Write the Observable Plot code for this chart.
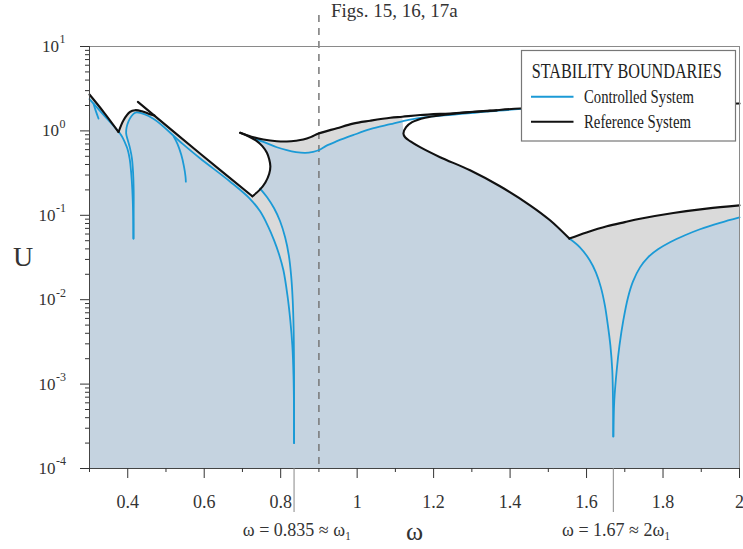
<!DOCTYPE html>
<html><head><meta charset="utf-8">
<script src="https://cdn.jsdelivr.net/npm/d3@7"></script>
<script src="https://cdn.jsdelivr.net/npm/@observablehq/plot@0.6"></script>
<style>html,body{margin:0;padding:0;background:#fff;}</style>
</head><body><div id="chart"></div>
<script>
// ---- Reference system boundary (black), [omega, U] ----
const refLeft   = [[0.300,2.70],[0.338,1.65],[0.376,0.97]];
const refArch   = [[0.376,0.97],[0.389,1.34],[0.406,1.68],[0.419,1.76],[0.437,1.71],[0.453,1.61],[0.470,1.52]];
const refLine   = [[0.4265,2.21],[0.589,0.54],[0.726,0.168]];
const refBulge  = [[0.726,0.168],[0.745,0.20],[0.760,0.245],[0.770,0.31],[0.773,0.38],[0.770,0.46],[0.764,0.55],[0.752,0.66],[0.735,0.77],[0.714,0.87],[0.694,0.95]];
const refTop    = [[0.694,0.95],[0.712,0.89],[0.729,0.84],[0.755,0.79],[0.79,0.755],[0.816,0.75],[0.84,0.765],[0.859,0.79],[0.88,0.85],[0.899,0.93],[0.947,1.076],[0.989,1.22],[1.034,1.32],[1.087,1.43],[1.118,1.47],[1.165,1.54],[1.26,1.63],[1.348,1.74],[1.426,1.84],[1.55,1.94],[1.70,2.02],[1.85,2.07],[2.0,2.11]];
const refLoopUp = [[1.365,1.75],[1.3476,1.727],[1.2953,1.667],[1.23,1.556],[1.1777,1.434],[1.1437,1.268],[1.128,1.106],[1.121,0.93]];
const refLoopLo = [[1.121,0.93],[1.1254,0.841],[1.1385,0.755],[1.1646,0.641],[1.2169,0.488],[1.2953,0.342],[1.3737,0.221],[1.4522,0.1315],[1.5045,0.0873],[1.555,0.053]];
const refRight  = [[1.555,0.053],[1.60,0.0625],[1.653,0.074],[1.70,0.083],[1.74,0.091],[1.827,0.1065],[1.914,0.120],[2.0,0.131]];

// ---- Controlled system boundary (blue), [omega, U] ----
const ctlLeft   = [[0.300,2.38],[0.338,1.53],[0.365,1.12],[0.376,0.98],[0.385,0.86],[0.392,0.74],[0.399,0.62],[0.405,0.47],[0.409,0.32],[0.412,0.20],[0.414,0.11],[0.415,0.053]];
const ctlMid    = [[0.415,0.053],[0.4155,0.11],[0.4155,0.20],[0.414,0.32],[0.411,0.47],[0.406,0.62],[0.400,0.78],[0.396,0.92],[0.397,1.10],[0.402,1.30],[0.410,1.50],[0.418,1.63],[0.424,1.66],[0.467,1.395],[0.537,0.745],[0.589,0.474],[0.668,0.25],[0.719,0.158],[0.7462,0.1115],[0.7671,0.0741],[0.7828,0.0505],[0.7959,0.0344],[0.8072,0.0223],[0.8177,0.01125],[0.8252,0.00568],[0.8305,0.00287],[0.8336,0.00126],[0.8349,0.00049],[0.835,0.0002]];
const ctlDip2R  = [[0.7462,0.2074],[0.7645,0.1636],[0.7828,0.1211],[0.7985,0.0849],[0.8116,0.0548],[0.8213,0.0335],[0.8273,0.0194],[0.8315,0.0098],[0.8339,0.00433],[0.8349,0.00145],[0.835,0.0002]];
const ctlTop    = [[0.729,0.81],[0.755,0.74],[0.79,0.64],[0.816,0.59],[0.84,0.56],[0.864,0.548],[0.885,0.565],[0.899,0.59],[0.92,0.67],[0.947,0.755],[0.989,0.889],[1.034,1.047],[1.087,1.20],[1.118,1.30],[1.165,1.43],[1.26,1.57],[1.348,1.71],[1.43,1.82]];
const ctlDip3L  = [[1.555,0.053],[1.5826,0.0417],[1.6087,0.0292],[1.6244,0.0211],[1.6375,0.0140],[1.6479,0.00856],[1.6558,0.00495],[1.6623,0.00287],[1.6673,0.00145],[1.6692,0.00064],[1.670,0.00024]];
const ctlDip3R  = [[1.670,0.00024],[1.6725,0.00064],[1.6788,0.00145],[1.6861,0.00287],[1.6961,0.00568],[1.7084,0.01064],[1.7215,0.01648],[1.7398,0.02415],[1.7607,0.0318],[1.7868,0.0395],[1.8182,0.0479],[1.8574,0.058],[1.8966,0.0683],[1.9489,0.0815],[2.0,0.0946]];
const ctlSpur1  = [[0.3105,2.10],[0.316,1.75],[0.3235,1.40]];
const ctlSpur2  = [[0.52,0.86],[0.53,0.70],[0.54,0.52],[0.547,0.38],[0.551,0.29],[0.552,0.25]];

// ---- axes / annotations ----
const xDomain = [0.3, 2.0];
const yDomain = [1e-4, 10];
const xMajor = [0.4,0.6,0.8,1.0,1.2,1.4,1.6,1.8,2.0];
const xMinor = [0.3,0.5,0.7,0.9,1.1,1.3,1.5,1.7,1.9];
const yMajor = [1e-4,1e-3,1e-2,1e-1,1,10];
const yMinor = yMajor.slice(0,-1).flatMap(d => [2,3,4,5,6,7,8,9].map(k => k*d));
const markedOmega = [0.835, 1.67];
const markedLabels = ["ω = 0.835 ≈ ω₁", "ω = 1.67 ≈ 2ω₁"];
const dashedOmega = 0.9;
const titleText = "Figs. 15, 16, 17a";
const legendTitle = "STABILITY BOUNDARIES";
const seriesNames = ["Controlled System", "Reference System"];
const BLUE = "#1b9ad6", BLACK = "#111111";
const seriesColors = [BLUE, BLACK];

// ---- fill polygons built from boundary arrays ----
const bot = yDomain[0];
const refPoly = [[xDomain[0], bot], ...refLeft, ...refArch.slice(1),
  ...refLine.filter(d => d[0] > 0.47), ...refBulge.slice(1),
  ...refTop.filter(d => d[0] > 0.694 && d[0] <= 1.118), ...refLoopLo, ...refRight.slice(1), [xDomain[1], bot]];
const ctlPoly = [[xDomain[0], bot], ...ctlLeft, ...ctlMid.slice(1), ...ctlDip2R.slice().reverse().slice(1),
  ...refBulge.filter(d => d[1] > 0.21 && d[1] < 0.8), ...ctlTop.filter(d => d[0] <= 1.118),
  ...refLoopLo, ...ctlDip3L.slice(1), ...ctlDip3R.slice(1), [xDomain[1], bot]];

const X = d => d[0], Y = d => d[1];
const stroke = (data, color, w) => Plot.line(data, {x: X, y: Y, stroke: color, strokeWidth: w, curve: "catmull-rom"});
const fmtX = d => (Math.abs(d - Math.round(d)) < 1e-9 ? String(Math.round(d)) : d.toFixed(1));
const expOf = d => String(Math.round(Math.log10(d)));

const chart = Plot.plot({
  width: 743, height: 549,
  marginTop: 46, marginBottom: 81, marginLeft: 89, marginRight: 4,
  style: {fontFamily: "Liberation Serif", color: "#333", background: "white"},
  x: {domain: xDomain},
  y: {type: "log", domain: yDomain},
  marks: [
    Plot.line(refPoly, {x: X, y: Y, fill: "#dadada", stroke: "none"}),
    Plot.line(ctlPoly, {x: X, y: Y, fill: "#c5d3e0", stroke: "none"}),
    Plot.ruleX([dashedOmega], {stroke: "#777", strokeWidth: 1.5, strokeDasharray: "7,6", insetTop: -31}),
    stroke(ctlLeft, BLUE, 1.8), stroke(ctlMid, BLUE, 1.8), stroke(ctlDip2R, BLUE, 1.8),
    stroke(ctlTop, BLUE, 1.8), stroke(ctlDip3L, BLUE, 1.8), stroke(ctlDip3R, BLUE, 1.8),
    stroke(ctlSpur1, BLUE, 1.8), stroke(ctlSpur2, BLUE, 1.8),
    stroke(refLeft, BLACK, 2.1), stroke(refArch, BLACK, 2.1), stroke(refLine, BLACK, 2.1),
    stroke(refBulge, BLACK, 2.1), stroke(refTop, BLACK, 2.1),
    stroke([...refLoopUp, ...refLoopLo.slice(1)], BLACK, 2.1), stroke(refRight, BLACK, 2.1),
    Plot.frame({stroke: "#8a8a8a"}),
    Plot.ruleX([xDomain[0]], {stroke: "#444"}),
    Plot.ruleY([yDomain[0]], {stroke: "#444"}),
    Plot.axisY(yMajor, {tickSize: 9, tickFormat: () => "", label: null}),
    Plot.axisY(yMinor, {tickSize: 4, tickFormat: () => "", label: null}),
    Plot.axisX(xMajor, {tickSize: 10, tickPadding: 17, tickFormat: fmtX, fontSize: 18, label: null}),
    Plot.axisX(xMinor, {tickSize: 4, tickFormat: () => "", label: null}),
    Plot.axisX(markedOmega, {tickSize: 44, tickFormat: () => "", stroke: "#888", label: null}),
    Plot.text(yMajor.filter(d => d >= 1), {y: d => d, frameAnchor: "left", text: () => "10", textAnchor: "end", dx: -30.5, fontSize: 17}),
    Plot.text(yMajor.filter(d => d < 1), {y: d => d, frameAnchor: "left", text: () => "10", textAnchor: "end", dx: -34, fontSize: 17}),
    Plot.text(yMajor.filter(d => d >= 1), {y: d => d, frameAnchor: "left", text: expOf, textAnchor: "start", dx: -30, dy: -7, fontSize: 12}),
    Plot.text(yMajor.filter(d => d < 1), {y: d => d, frameAnchor: "left", text: expOf, textAnchor: "start", dx: -33.5, dy: -7, fontSize: 12}),
    Plot.text(markedOmega, {x: d => d, frameAnchor: "bottom", lineAnchor: "middle", text: (d, i) => markedLabels[i], dy: 62, dx: 3, fontSize: 18}),
    Plot.text(["ω"], {frameAnchor: "bottom", lineAnchor: "middle", text: d => d, dy: 63, fontSize: 26}),
    Plot.text(["U"], {frameAnchor: "left", textAnchor: "middle", lineAnchor: "middle", text: d => d, dx: -66.5, fontSize: 28}),
    Plot.text([titleText], {x: dashedOmega, frameAnchor: "top", lineAnchor: "middle", text: d => d, textAnchor: "start", dx: 12, dy: -35.5, fontSize: 19})
  ]
});
document.getElementById("chart").append(chart);

// ---- legend ----
const svg = d3.select(chart);
const lg = svg.append("g").attr("font-family", "Liberation Serif").attr("fill", "#222").attr("text-anchor", "start");
lg.append("rect").attr("x", 521.5).attr("y", 50.5).attr("width", 214).attr("height", 90.5)
  .attr("fill", "white").attr("stroke", "#777").attr("stroke-width", 1.2);
function squeezed(txt, x, y, size, target) {
  const t = lg.append("text").attr("font-size", size).text(txt);
  const w = t.node().getComputedTextLength() || target;
  const s = Math.min(1, target / w);
  t.attr("transform", `translate(${x},${y}) scale(${s},1)`);
}
squeezed(legendTitle, 531.7, 78, 20, 190);
seriesNames.forEach((name, i) => {
  const yy = 96.7 + i * 25;
  lg.append("line").attr("x1", 531).attr("x2", 573.5).attr("y1", yy).attr("y2", yy)
    .attr("stroke", seriesColors[i]).attr("stroke-width", 2);
  squeezed(name, 584, yy + 6, 19, i === 0 ? 110 : 107);
});
</script></body></html>
